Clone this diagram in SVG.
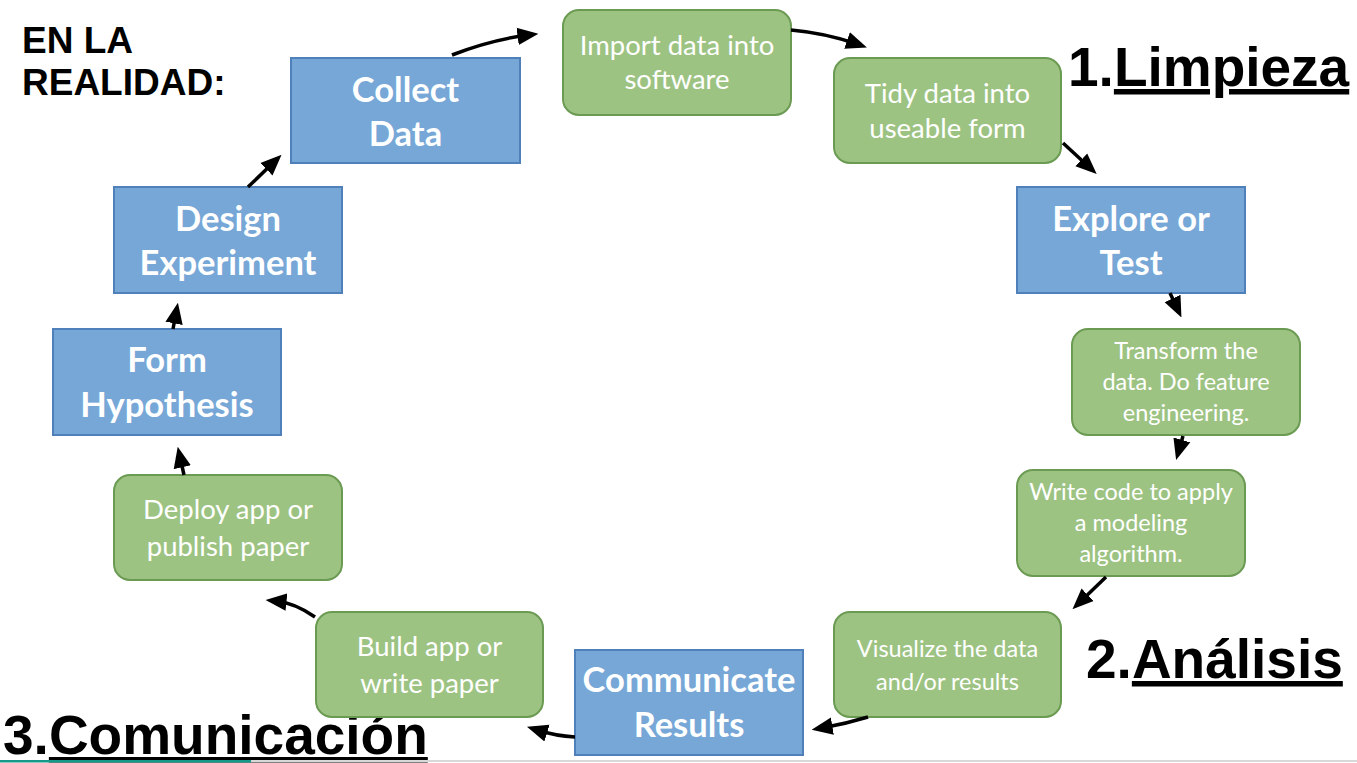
<svg xmlns="http://www.w3.org/2000/svg" width="1357" height="763" viewBox="0 0 1357 763">
<style>
.blue{fill:#76a7d7;stroke:#4f80ba;stroke-width:2}
.green{fill:#9dc383;stroke:#6b9a52;stroke-width:2}
.bt{font-family:Lato,"Open Sans",sans-serif;font-weight:bold;font-size:34.5px;fill:#fff;text-anchor:middle}
.gt{font-family:Lato,"Open Sans",sans-serif;font-size:27.5px;fill:#fff;text-anchor:middle}
.gs{font-family:Lato,"Open Sans",sans-serif;font-size:23.5px;fill:#fff;text-anchor:middle}
.hd{font-family:"Liberation Sans",Arial,sans-serif;font-weight:bold;fill:#000}
.conn path{fill:none;stroke:#000;stroke-width:3.5;marker-end:url(#ah)}
</style>
<defs>
<marker id="ah" markerWidth="6" markerHeight="6" refX="3" refY="2.5" orient="auto" markerUnits="strokeWidth" viewBox="0 0 6 5">
<path d="M0,0 L6,2.5 L0,5 Z" fill="#000"/>
</marker>
</defs>
<rect width="1357" height="763" fill="#fff"/>

<g id="heading-real">
<text class="hd" x="22" y="53" font-size="37">EN LA</text>
<text class="hd" x="22" y="95" font-size="37">REALIDAD:</text>
</g>
<g id="heading-1">
<text class="hd" x="1068" y="86" font-size="55">1.<tspan text-decoration="underline">Limpieza</tspan></text>
</g>
<g id="heading-2">
<text class="hd" x="1086" y="678" font-size="55">2.<tspan text-decoration="underline">Análisis</tspan></text>
</g>
<g id="heading-3">
<text class="hd" x="3" y="754" font-size="55">3.<tspan text-decoration="underline">Comunicación</tspan></text>
</g>

<g id="collect">
<rect class="blue" x="291" y="58" width="229" height="105"/>
<text class="bt" x="405.5" y="102">Collect</text>
<text class="bt" x="405.5" y="146">Data</text>
</g>
<g id="import">
<rect class="green" x="563" y="10" width="228" height="105" rx="16"/>
<text class="gt" x="677" y="55">Import data into</text>
<text class="gt" x="677" y="89">software</text>
</g>
<g id="tidy">
<rect class="green" x="834" y="58" width="227" height="105" rx="16"/>
<text class="gt" x="947.5" y="103">Tidy data into</text>
<text class="gt" x="947.5" y="138">useable form</text>
</g>
<g id="explore">
<rect class="blue" x="1017" y="187" width="228" height="106"/>
<text class="bt" x="1131" y="231">Explore or</text>
<text class="bt" x="1131" y="275">Test</text>
</g>
<g id="transform">
<rect class="green" x="1072" y="329" width="228" height="106" rx="16"/>
<text class="gs" x="1186" y="359">Transform the</text>
<text class="gs" x="1186" y="390">data. Do feature</text>
<text class="gs" x="1186" y="421">engineering.</text>
</g>
<g id="write">
<rect class="green" x="1017" y="470" width="228" height="106" rx="16"/>
<text class="gs" x="1131" y="500">Write code to apply</text>
<text class="gs" x="1131" y="531">a modeling</text>
<text class="gs" x="1131" y="562">algorithm.</text>
</g>
<g id="visualize">
<rect class="green" x="834" y="612" width="227" height="105" rx="16"/>
<text class="gs" x="947.5" y="657">Visualize the data</text>
<text class="gs" x="947.5" y="690">and/or results</text>
</g>
<g id="communicate">
<rect class="blue" x="575" y="650" width="228" height="105"/>
<text class="bt" x="689" y="692">Communicate</text>
<text class="bt" x="689" y="737">Results</text>
</g>
<g id="build">
<rect class="green" x="316" y="612" width="227" height="105" rx="16"/>
<text class="gt" x="429.5" y="656">Build app or</text>
<text class="gt" x="429.5" y="693">write paper</text>
</g>
<g id="deploy">
<rect class="green" x="114" y="475" width="228" height="105" rx="16"/>
<text class="gt" x="228" y="519">Deploy app or</text>
<text class="gt" x="228" y="556">publish paper</text>
</g>
<g id="form">
<rect class="blue" x="53" y="329" width="228" height="106"/>
<text class="bt" x="167" y="372">Form</text>
<text class="bt" x="167" y="417">Hypothesis</text>
</g>
<g id="design">
<rect class="blue" x="114" y="187" width="228" height="106"/>
<text class="bt" x="228" y="231">Design</text>
<text class="bt" x="228" y="275">Experiment</text>
</g>

<g id="connectors" class="conn">
<path d="M452,55 Q490,40 528,35"/>
<path d="M791,30 Q825,33 857,44"/>
<path d="M1063,143 L1089,167"/>
<path d="M1170,293 L1177,308"/>
<path d="M1183,436 L1179,450"/>
<path d="M1106,577 L1080,602"/>
<path d="M868,717 Q845,724 822,728"/>
<path d="M575,737 Q556,736 537,730"/>
<path d="M315,617 Q295,603 276,601"/>
<path d="M184,475 L180,457"/>
<path d="M173,329 L176,313"/>
<path d="M248,187 L274,162"/>
</g>

<g id="bottom-rule">
<rect x="0" y="760" width="1357" height="2" fill="#d8d8d8"/>
<rect x="0" y="760" width="251" height="2.5" fill="#159a8a"/>
</g>
</svg>
